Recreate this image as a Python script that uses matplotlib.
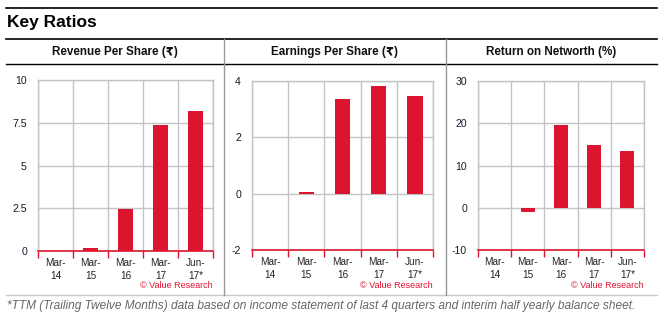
#!/usr/bin/env python3
"""Draw the Key Ratios panel: three small bar charts side by side."""

import matplotlib

matplotlib.use("Agg")
import matplotlib.pyplot as plt
from matplotlib.lines import Line2D
from matplotlib.ticker import FixedLocator

W, H = 664, 327

periods = ["Mar-\n14", "Mar-\n15", "Mar-\n16", "Mar-\n17", "Jun-\n17*"]

revenue_per_share = [0.0, 0.2, 2.45, 7.35, 8.2]
earnings_per_share = [0.0, 0.05, 3.37, 3.83, 3.47]
return_on_networth = [0.0, -1.1, 19.6, 14.9, 13.5]

panel_titles = ["Revenue Per Share (\u20b9)", "Earnings Per Share (\u20b9)", "Return on Networth (%)"]
revenue_ticks = [0, 2.5, 5, 7.5, 10]
revenue_tick_labels = ["0", "2.5", "5", "7.5", "10"]
earnings_ticks = [-2, 0, 2, 4]
networth_ticks = [-10, 0, 10, 20, 30]

footnote = ("*TTM (Trailing Twelve Months) data based on income statement of last 4 "
            "quarters and interim half yearly balance sheet.")

BAR_RED = "#dc1430"
GRID = "#c4c4c4"
FONT = ["Liberation Sans", "DejaVu Sans"]

plt.rcParams["font.family"] = FONT


def px_rect(left, top, right, bottom):
    return [left / W, 1 - bottom / H, (right - left) / W, (bottom - top) / H]


def hline(fig, y, x0=6, x1=657, color="black", lw=1.0):
    fig.add_artist(Line2D([x0 / W, x1 / W], [1 - y / H, 1 - y / H],
                          color=color, lw=lw, transform=fig.transFigure))


def vline(fig, x, y0, y1, color="#999999", lw=1.0):
    fig.add_artist(Line2D([x / W, x / W], [1 - y0 / H, 1 - y1 / H],
                          color=color, lw=lw, transform=fig.transFigure))


def draw_panel(fig, rect, values, ticks, tick_labels=None):
    ax = fig.add_axes(px_rect(*rect))
    ax.bar(range(len(values)), values, width=0.42, color=BAR_RED,
           linewidth=0, zorder=3)
    ax.set_xlim(-0.5, len(values) - 0.5)
    ax.set_ylim(ticks[0], ticks[-1])

    ax.set_yticks(ticks)
    ax.set_yticklabels(tick_labels or [str(t) for t in ticks])
    ax.tick_params(axis="y", length=0, pad=8, labelsize=7.6, labelcolor="#1a1a2e")

    # category boundaries carry the red tick marks and vertical grid
    ax.xaxis.set_major_locator(FixedLocator([i - 0.5 for i in range(len(values) + 1)]))
    ax.xaxis.set_minor_locator(FixedLocator(list(range(len(values)))))
    ax.set_xticklabels([], minor=False)
    ax.set_xticklabels(periods, minor=True)
    ax.tick_params(axis="x", which="major", length=5, color=BAR_RED, width=1)
    ax.tick_params(axis="x", which="minor", length=0, pad=5, labelsize=7.2,
                   labelcolor="#222222")
    for lab in ax.get_xticklabels(minor=True):
        lab.set_linespacing(1.35)

    ax.set_axisbelow(True)
    ax.grid(True, axis="both", which="major", color=GRID, lw=1)
    for side in ("left", "right", "top"):
        ax.spines[side].set_color(GRID)
        ax.spines[side].set_linewidth(1)
    ax.spines["bottom"].set_color(BAR_RED)
    ax.spines["bottom"].set_linewidth(1.2)
    ax.set_facecolor("white")

    # credit line sits just under the last category label
    bottom_px = rect[3]
    height_px = rect[3] - rect[1]
    ax.text(1.0, -(285 - bottom_px) / height_px, "\u00a9 Value Research",
            transform=ax.transAxes, ha="right", va="center", fontsize=6.5,
            color=BAR_RED)
    return ax


def main():
    fig = plt.figure(figsize=(W / 100, H / 100), dpi=100)

    hline(fig, 8, lw=1.2)
    fig.text(7 / W, 1 - 23 / H, "Key Ratios", fontsize=12.5, fontweight="bold",
             ha="left", va="center", color="black")
    hline(fig, 39, lw=1.2)
    hline(fig, 64, lw=1.0)
    hline(fig, 295, color="#c8c8c8", lw=1.0)
    vline(fig, 224, 39, 295)
    vline(fig, 446, 39, 295)

    for cx, title in zip([115, 335, 551], panel_titles):
        fig.text(cx / W, 1 - 52 / H, title, fontsize=8.4, fontweight="bold",
                 ha="center", va="center", color="#111111")

    draw_panel(fig, (38, 80, 213, 251), revenue_per_share, revenue_ticks,
               revenue_tick_labels)
    draw_panel(fig, (252, 81, 433, 250), earnings_per_share, earnings_ticks)
    draw_panel(fig, (478, 81, 644, 250), return_on_networth, networth_ticks)

    fig.text(7 / W, 1 - 306 / H, footnote, fontsize=8.55, style="italic",
             ha="left", va="center", color="#666666")

    fig.savefig("out.png", dpi=100, facecolor="white")
    plt.close(fig)
    return 0


if __name__ == "__main__":
    raise SystemExit(main())
